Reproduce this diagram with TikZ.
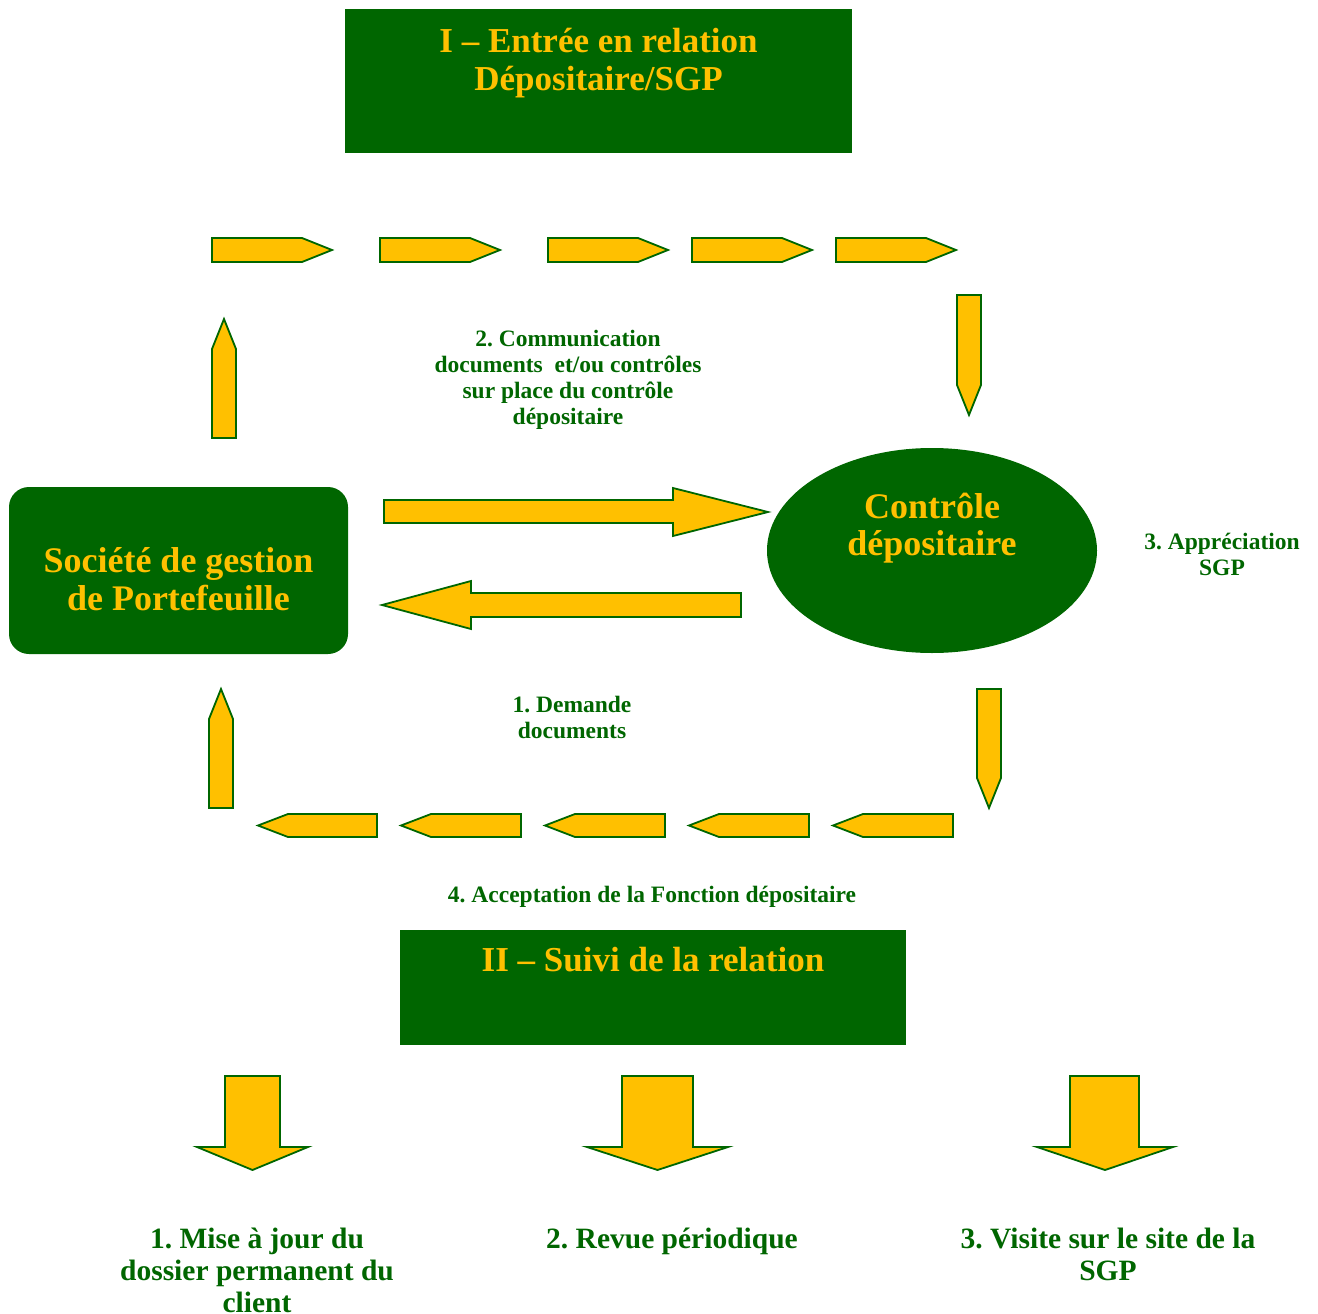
\documentclass[tikz,border=0pt]{standalone}
\usepackage{fontspec}
\setmainfont{Liberation Serif}
\usetikzlibrary{shapes}
\frenchspacing

\definecolor{dkgreen}{RGB}{0,102,0}
\definecolor{gold}{RGB}{255,192,0}

\begin{document}
\begin{tikzpicture}[x=1pt,y=-1pt,
  gbox/.style={shape=rectangle,fill=dkgreen,text=gold,align=center,inner sep=0pt,font=\bfseries\fontsize{35}{38}\selectfont},
  glabel/.style={text=dkgreen,align=center,anchor=base,inner sep=0pt,font=\bfseries\fontsize{23.5}{26}\selectfont},
  gstep/.style={text=dkgreen,align=center,anchor=base,inner sep=0pt,font=\bfseries\fontsize{29.5}{32}\selectfont},
  yarrow/.style={draw=dkgreen,fill=gold,line width=1.8pt}]
\useasboundingbox (0,0) rectangle (1318,1314);

\node[gbox,minimum width=507pt,text height=82pt,text depth=62pt] (entree) at (598.5,81) {I – Entrée en relation\\Dépositaire/SGP};
\node[gbox,rounded corners=20pt,minimum width=339pt,text height=123pt,text depth=44pt,font=\bfseries\fontsize{36}{38}\selectfont] (sgp) at (178.5,570.5) {Société de gestion\\de Portefeuille};
\node[shape=ellipse,fill=dkgreen,text=gold,align=center,inner sep=0pt,minimum width=330pt,minimum height=205pt,text height=44.5pt,text depth=35.5pt,font=\bfseries\fontsize{36}{37}\selectfont] (controle) at (932,550.5) {Contrôle\\dépositaire};
\node[gbox,minimum width=506pt,text height=41pt,text depth=74pt] (suivi) at (653,987.5) {II – Suivi de la relation};

\node[glabel] (comm) at (568,424) {2. Communication\\documents~ et/ou contrôles\\sur place du contrôle\\dépositaire};
\node[glabel] (appr) at (1222,575) {3. Appréciation\\SGP};
\node[glabel] (demande) at (572,738) {1. Demande\\documents};
\node[glabel] (accept) at (652,902) {4. Acceptation de la Fonction dépositaire};

\node[gstep] (step1) at (257,1312) {1. Mise à jour du\\dossier permanent du\\client};
\node[gstep] (step2) at (672,1248) {2. Revue périodique};
\node[gstep] (step3) at (1108,1280) {3. Visite sur le site de la\\SGP};

\draw[yarrow] (212,238) -- (302,238) -- (332,250) -- (302,262) -- (212,262) -- cycle;
\draw[yarrow] (380,238) -- (470,238) -- (500,250) -- (470,262) -- (380,262) -- cycle;
\draw[yarrow] (548,238) -- (638,238) -- (668,250) -- (638,262) -- (548,262) -- cycle;
\draw[yarrow] (692,238) -- (782,238) -- (812,250) -- (782,262) -- (692,262) -- cycle;
\draw[yarrow] (836,238) -- (926,238) -- (956,250) -- (926,262) -- (836,262) -- cycle;
\draw[yarrow] (212,438) -- (212,349) -- (224,319) -- (236,349) -- (236,438) -- cycle;
\draw[yarrow] (957,295) -- (981,295) -- (981,385) -- (969,415) -- (957,385) -- cycle;

\draw[yarrow] (384,500) -- (673,500) -- (673,488) -- (768,512) -- (673,536) -- (673,523) -- (384,523) -- cycle;
\draw[yarrow] (741,593) -- (471,593) -- (471,581) -- (382,605) -- (471,629) -- (471,617) -- (741,617) -- cycle;

\draw[yarrow] (209,808) -- (209,719) -- (221,689) -- (233,719) -- (233,808) -- cycle;
\draw[yarrow] (977,689) -- (1001,689) -- (1001,778) -- (989,808) -- (977,778) -- cycle;
\draw[yarrow] (377,814) -- (288,814) -- (258,825.5) -- (288,837) -- (377,837) -- cycle;
\draw[yarrow] (521,814) -- (431,814) -- (401,825.5) -- (431,837) -- (521,837) -- cycle;
\draw[yarrow] (665,814) -- (575,814) -- (545,825.5) -- (575,837) -- (665,837) -- cycle;
\draw[yarrow] (809,814) -- (719,814) -- (689,825.5) -- (719,837) -- (809,837) -- cycle;
\draw[yarrow] (953,814) -- (863,814) -- (833,825.5) -- (863,837) -- (953,837) -- cycle;

\draw[yarrow] (225,1076) -- (280,1076) -- (280,1147) -- (308,1147) -- (252.5,1170) -- (197,1147) -- (225,1147) -- cycle;
\draw[yarrow] (622,1076) -- (693,1076) -- (693,1147) -- (728,1147) -- (657.5,1170) -- (587,1147) -- (622,1147) -- cycle;
\draw[yarrow] (1070,1076) -- (1139,1076) -- (1139,1147) -- (1173,1147) -- (1105,1170) -- (1037,1147) -- (1070,1147) -- cycle;
\end{tikzpicture}
\end{document}
